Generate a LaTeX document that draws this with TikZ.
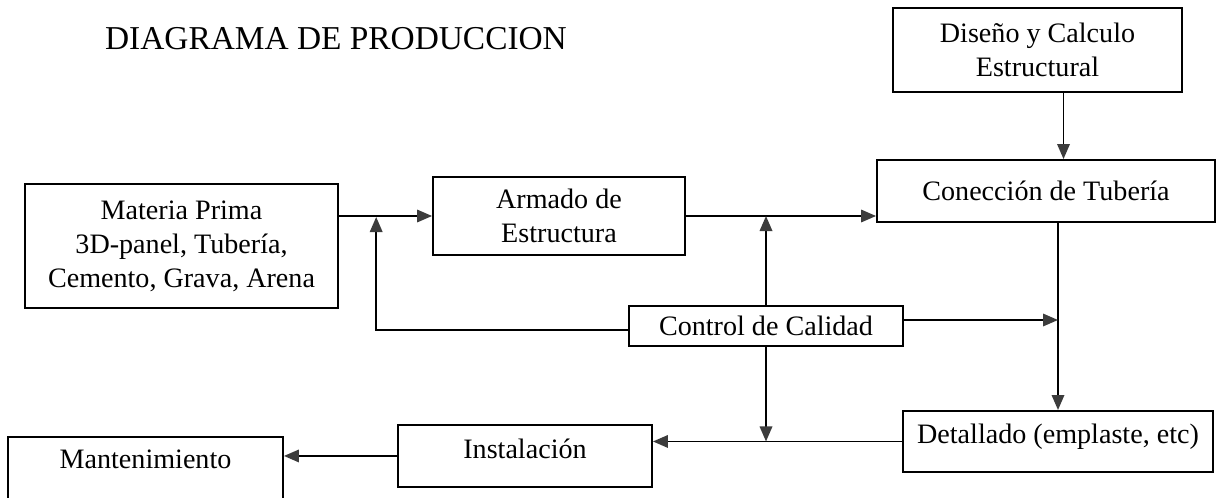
\documentclass[tikz,border=0pt]{standalone}
\usepackage{fontspec}
\setmainfont{Liberation Serif}
\usetikzlibrary{arrows.meta,calc}
\definecolor{tipgray}{HTML}{3C3C3C}
\tikzset{
  box/.style={draw=black, line width=1.1pt, inner sep=0pt, align=center,
    font=\fontsize{16}{19.4}\selectfont},
  conn/.style={draw=black, line width=1pt,
    -{Triangle[length=0.3cm,width=0.25cm,color=tipgray]}}
}
\begin{document}
\begin{tikzpicture}[x=0.02cm,y=-0.02cm]
\useasboundingbox (0,0) rectangle (1220,497);
\clip (0,0) rectangle (1220,497);
\fill[white] (0,0) rectangle (1220,497);

\node[anchor=base, font=\fontsize{19}{23}\selectfont] (title) at (336,50) {DIAGRAMA DE PRODUCCION};

\node[box, minimum width=5.78cm, minimum height=1.68cm] (disenio) at (1037.5,50) {Diseño y Calculo\\Estructural};
\node[box, minimum width=6.76cm, minimum height=1.24cm] (conec) at (1046,191) {Conección de Tubería};
\node[box, minimum width=6.26cm, minimum height=2.48cm] (materia) at (181.5,246) {Materia Prima\\3D-panel, Tubería,\\Cemento, Grava, Arena};
\node[box, minimum width=5.04cm, minimum height=1.56cm] (armado) at (559,216) {Armado de\\Estructura};
\node[box, minimum width=5.48cm, minimum height=0.8cm] (control) at (766,326) {Control de Calidad};
\node[box, minimum width=6.2cm, text height=0.66cm, text depth=0.56cm, anchor=north] (detallado) at (1058,410) {Detallado (emplaste, etc)};
\node[box, minimum width=5.08cm, text height=0.68cm, text depth=0.56cm, anchor=north] (instal) at (525,424) {Instalación};
\node[box, minimum width=5.5cm, text height=0.64cm, text depth=0.84cm, anchor=north] (manten) at (145.5,436) {Mantenimiento};

% flow connectors
\draw[conn] (armado.west -| materia.east) -- (armado.west);
\coordinate (j1) at ($(armado.west -| materia.east)!0.4!(armado.west)$);
\draw[conn] (armado.east) -- (armado.east -| conec.west);
\draw[conn] ([xshift=26*0.02cm]disenio.south) -- ([xshift=26*0.02cm]disenio.south |- conec.north);
\draw[conn] (detallado.north |- conec.south) -- (detallado.north);
\draw[conn] (detallado.west) -- (detallado.west -| instal.east);
\draw[conn] (instal.west) -- (instal.west -| manten.east);

% quality control
\draw[conn] ([yshift=-4*0.02cm]control.west) -| ([yshift=-1*0.02cm]j1);
\draw[conn] (control.north) -- (control.north |- armado.east);
\draw[conn] (control.south) -- (control.south |- detallado.west);
\draw[conn] ([yshift=6*0.02cm]control.east) -- ([yshift=6*0.02cm]control.east -| detallado.north);
\end{tikzpicture}
\end{document}
